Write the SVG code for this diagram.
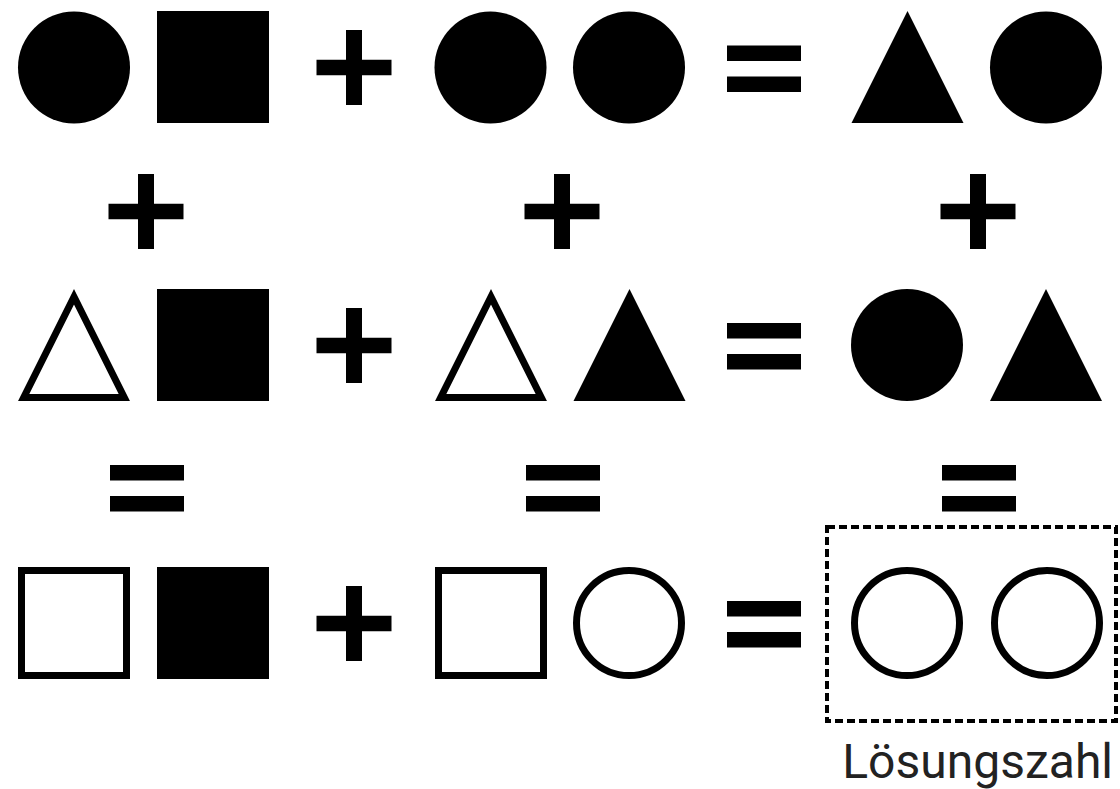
<svg xmlns="http://www.w3.org/2000/svg" width="1120" height="789" viewBox="0 0 1120 789">
<style>
.f{fill:#000}
.o{fill:#fff;stroke:#000;stroke-width:7;stroke-miterlimit:10}
.dash{fill:none;stroke:#000;stroke-width:4;stroke-dasharray:8 4}
.lbl{font-family:Roboto,"Liberation Sans",sans-serif;font-size:48px;fill:#222}
</style>
<defs>
<g id="plus"><rect x="-37.5" y="-7.75" width="75" height="15.5"/><rect x="-8" y="-37.5" width="16" height="75"/></g>
<g id="eq"><rect x="-37" y="-23" width="74" height="15.5"/><rect x="-37" y="8" width="74" height="15.5"/></g>
</defs>
<rect width="1120" height="789" fill="#fff"/>
<g id="row1">
<circle class="f" cx="74" cy="67.5" r="56"/>
<rect class="f" x="157" y="11" width="112" height="112"/>
<use href="#plus" x="354" y="67.5"/>
<circle class="f" cx="490.5" cy="67.5" r="56"/>
<circle class="f" cx="629" cy="67.5" r="56"/>
<use href="#eq" x="764" y="68.5"/>
<polygon class="f" points="907.5,11 963.5,123 851.5,123"/>
<circle class="f" cx="1046" cy="67.5" r="56"/>
</g>
<g id="ops1">
<use href="#plus" x="146" y="211.5"/>
<use href="#plus" x="562" y="211.5"/>
<use href="#plus" x="978" y="211.5"/>
</g>
<g id="row2">
<polygon class="o" points="74,296.8 124.3,397.5 23.7,397.5"/>
<rect class="f" x="157" y="289" width="112" height="112"/>
<use href="#plus" x="354" y="345.5"/>
<polygon class="o" points="491,296.8 541.3,397.5 440.7,397.5"/>
<polygon class="f" points="629.5,289 685.5,401 573.5,401"/>
<use href="#eq" x="764" y="346"/>
<circle class="f" cx="907" cy="345" r="56"/>
<polygon class="f" points="1046,289 1102,401 990,401"/>
</g>
<g id="ops2">
<use href="#eq" x="147" y="488"/>
<use href="#eq" x="563" y="488"/>
<use href="#eq" x="979" y="488"/>
</g>
<g id="row3">
<rect class="o" x="21.5" y="570.5" width="105" height="105"/>
<rect class="f" x="157" y="567" width="112" height="112"/>
<use href="#plus" x="354" y="623.5"/>
<rect class="o" x="438.5" y="570.5" width="105" height="105"/>
<circle class="o" cx="629" cy="623" r="52.5"/>
<use href="#eq" x="764" y="624"/>
</g>
<g id="solution">
<rect class="dash" x="827" y="527" width="289" height="194"/>
<circle class="o" cx="907" cy="623" r="52.5"/>
<circle class="o" cx="1047" cy="623" r="52.5"/>
<text class="lbl" x="1113" y="778" text-anchor="end">Lösungszahl</text>
</g>
</svg>
